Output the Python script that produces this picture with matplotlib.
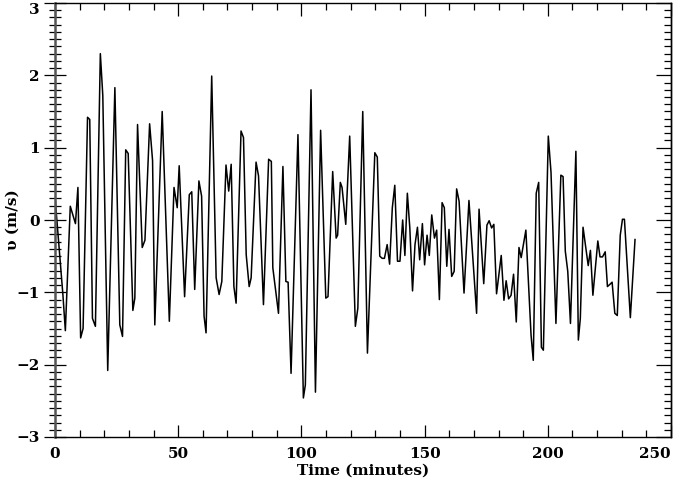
import numpy as np
import matplotlib
matplotlib.use('Agg')
from matplotlib import pyplot as plt
from matplotlib.ticker import MultipleLocator, FixedLocator

# Vertices (time in minutes, velocity in m/s)
time_min = [0.0, 3.2, 4.2, 6.2, 8.3, 9.3, 10.4, 11.4, 13.2, 14.1, 15.2, 16.4,
            18.4, 19.4, 21.4, 24.3, 26.3, 27.4, 28.7, 29.7, 31.6, 32.4, 33.5,
            35.4, 36.5, 38.4, 39.6, 40.5, 43.5, 46.4, 48.3, 49.6, 50.4, 52.6,
            54.5, 55.5, 56.7, 58.4, 59.5, 60.5, 61.3, 63.6, 65.4, 66.6, 67.7,
            69.4, 70.5, 71.5, 72.6, 73.5, 75.5, 76.5, 77.6, 78.8, 79.6, 81.6,
            82.6, 84.6, 86.7, 87.8, 88.4, 90.7, 92.5, 93.7, 94.6, 95.8, 98.6,
            100.8, 101.6, 103.9, 105.7, 107.8, 109.9, 110.8, 112.7, 114.1,
            114.7, 115.8, 116.5, 118.0, 119.6, 121.9, 122.9, 124.9, 126.8,
            129.8, 130.8, 131.8, 132.8, 133.7, 134.8, 135.8, 136.9, 137.9,
            139.0, 140.0, 141.1, 142.0, 143.0, 144.0, 145.1, 146.1, 147.1,
            148.0, 149.1, 150.0, 151.0, 151.9, 152.9, 154.0, 154.9, 156.0,
            157.1, 158.0, 159.0, 159.9, 161.0, 162.0, 163.0, 164.0, 166.0,
            168.0, 171.1, 172.1, 174.0, 175.3, 176.2, 177.2, 178.1, 179.2,
            181.1, 182.2, 183.1, 184.1, 185.1, 186.1, 187.2, 188.3, 189.2,
            191.1, 193.2, 194.1, 195.3, 196.3, 197.4, 198.2, 200.2, 201.3,
            203.3, 205.3, 206.2, 207.1, 208.1, 209.2, 211.4, 212.4, 213.2,
            214.3, 215.4, 216.4, 217.3, 218.3, 220.3, 221.2, 222.2, 223.3,
            224.2, 225.2, 226.1, 227.2, 228.2, 229.4, 230.3, 231.1, 233.5,
            235.4]

velocity = [0.32, -1.03, -1.53, 0.19, -0.05, 0.45, -1.63, -1.50, 1.42, 1.39,
            -1.36, -1.47, 2.30, 1.72, -2.08, 1.83, -1.45, -1.61, 0.97, 0.92,
            -1.25, -1.08, 1.32, -0.38, -0.28, 1.33, 0.82, -1.45, 1.50, -1.40,
            0.45, 0.17, 0.75, -1.06, 0.35, 0.39, -0.96, 0.54, 0.33, -1.33,
            -1.56, 1.99, -0.80, -1.03, -0.85, 0.76, 0.40, 0.77, -0.92, -1.15,
            1.23, 1.14, -0.48, -0.92, -0.80, 0.80, 0.61, -1.17, 0.84, 0.81,
            -0.66, -1.29, 0.74, -0.85, -0.86, -2.12, 1.18, -2.46, -2.28, 1.80,
            -2.38, 1.24, -1.08, -1.06, 0.67, -0.25, -0.21, 0.52, 0.45, -0.06,
            1.16, -1.47, -1.22, 1.50, -1.84, 0.93, 0.87, -0.50, -0.53, -0.53,
            -0.34, -0.61, 0.17, 0.48, -0.57, -0.57, 0.00, -0.49, 0.37, -0.11,
            -0.98, -0.34, -0.10, -0.55, -0.05, -0.62, -0.21, -0.49, 0.07,
            -0.25, -0.14, -1.10, 0.24, 0.17, -0.64, -0.13, -0.78, -0.71, 0.43,
            0.26, -1.01, 0.27, -1.29, 0.15, -0.88, -0.07, -0.01, -0.11, -0.06,
            -1.02, -0.49, -1.11, -0.84, -1.09, -1.04, -0.75, -1.41, -0.38,
            -0.52, -0.14, -1.59, -1.94, 0.37, 0.52, -1.76, -1.80, 1.16, 0.66,
            -1.43, 0.62, 0.60, -0.43, -0.71, -1.43, 0.95, -1.66, -1.36, -0.10,
            -0.38, -0.63, -0.42, -1.04, -0.29, -0.51, -0.51, -0.44, -0.92,
            -0.89, -0.86, -1.29, -1.32, -0.21, 0.01, 0.01, -1.35, -0.27]

x_ticks = [0, 50, 100, 150, 200, 250]
y_ticks = [-3, -2, -1, 0, 1, 2, 3]

if __name__ == '__main__':
    plt.rcParams['font.family'] = ['DejaVu Serif']
    plt.rcParams['font.weight'] = 'bold'

    fig = plt.figure(figsize=(6.85, 4.84), dpi=100)
    ax = fig.add_axes([55 / 685, 1 - 437 / 484, 616 / 685, 434 / 484])

    ax.plot(time_min, velocity, color='black', linewidth=1.1)

    ax.set_xlim(0, 250)
    ax.set_ylim(-3, 3)
    ax.set_xticks(x_ticks, [str(t) for t in x_ticks])
    ax.set_yticks(y_ticks, ['\u2212' + str(-t) if t < 0 else str(t) for t in y_ticks])
    ax.xaxis.set_minor_locator(MultipleLocator(10))
    ax.yaxis.set_minor_locator(MultipleLocator(0.1))

    # x ticks inward on bottom and top
    ax.tick_params(axis='x', which='both', direction='in', top=True,
                   labelsize=11, pad=7, width=0.9)
    ax.tick_params(axis='x', which='major', length=9)
    ax.tick_params(axis='x', which='minor', length=5)

    # left y ticks cross the axis line
    ax.tick_params(axis='y', which='both', direction='inout', right=False,
                   labelsize=11, pad=3, width=0.9)
    ax.tick_params(axis='y', which='major', length=16)
    ax.tick_params(axis='y', which='minor', length=8)

    # right y ticks inward, no labels
    right = ax.secondary_yaxis('right')
    right.yaxis.set_major_locator(FixedLocator(y_ticks))
    right.yaxis.set_minor_locator(MultipleLocator(0.1))
    right.tick_params(which='both', direction='in', labelright=False, width=0.9)
    right.tick_params(which='major', length=11)
    right.tick_params(which='minor', length=5)
    right.spines['right'].set_linewidth(1.0)

    for side in ['left', 'right', 'top', 'bottom']:
        ax.spines[side].set_linewidth(1.0)
    ax.spines['left'].set_linewidth(1.8)
    ax.spines['left'].set_color('#555555')

    # keep edge labels inside the image, as in the reference
    for tick in ax.xaxis.get_major_ticks():
        if tick.get_loc() == 250:
            tick.label1.set_horizontalalignment('right')
    for tick in ax.yaxis.get_major_ticks():
        if tick.get_loc() == 3:
            tick.label1.set_verticalalignment('top')

    ax.set_xlabel('Time (minutes)', fontsize=11, fontweight='bold', labelpad=2)
    ax.set_ylabel('\u03c5 (m/s)', fontsize=11, fontweight='bold')
    ax.yaxis.set_label_coords(-0.058, 0.5)

    fig.savefig('out.png', dpi=100)
